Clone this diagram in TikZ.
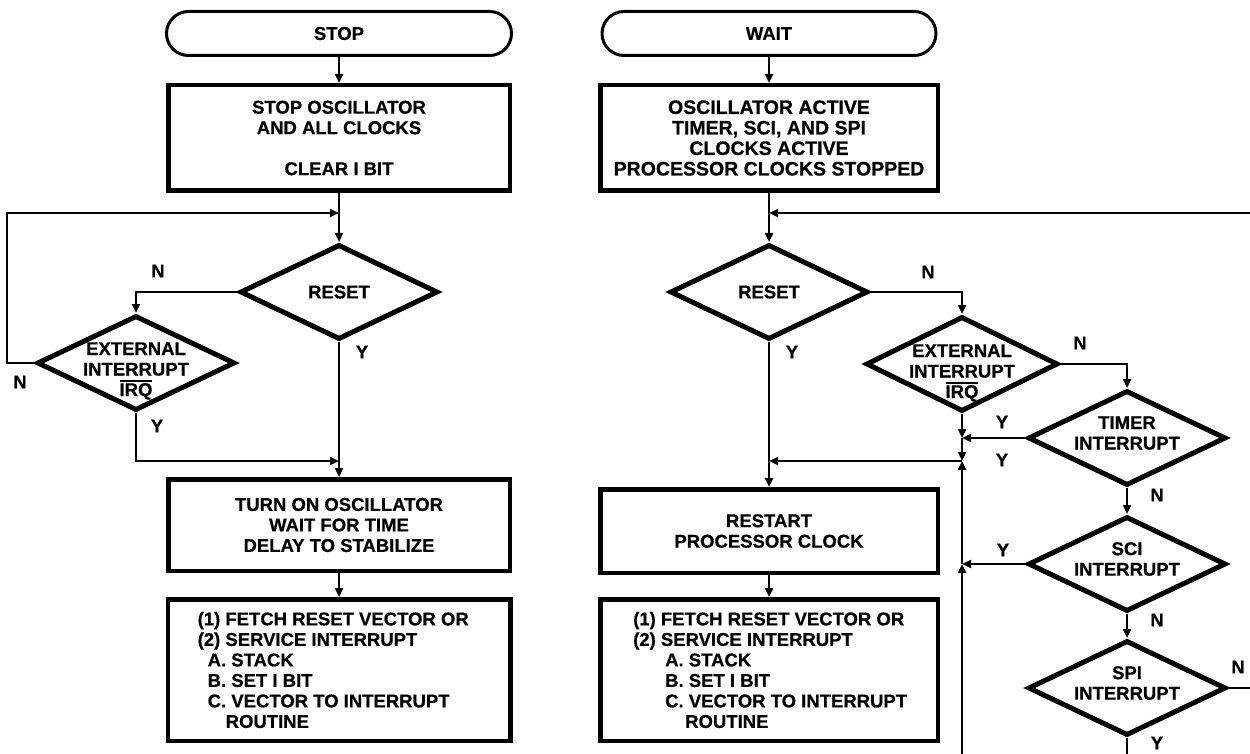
\documentclass[tikz,border=0pt]{standalone}
\usepackage{fontspec}
\setmainfont{Liberation Sans}[BoldFeatures={FakeBold=0.6}]
\usetikzlibrary{shapes.geometric,arrows.meta}
\newcommand\ovl[1]{\leavevmode\vbox{\hrule height 1.7pt\kern1.2pt\hbox{#1}}}
\tikzset{
  fc/.style={font=\fontsize{18.5}{20.5}\selectfont\bfseries},
  box/.style={draw,line width=4.5pt,inner sep=0pt,fc,align=center},
  dia/.style={diamond,draw,line width=5pt,inner sep=0pt,minimum width=198pt,minimum height=95pt},
  term/.style={draw,line width=3pt,rounded corners=22pt,minimum height=44pt,inner sep=0pt,fc},
  txt/.style={fc,align=center,inner sep=0pt},
  lbl/.style={fc,inner sep=0pt},
  con/.style={line width=2.8pt},
  arr/.style={con,-{Triangle[length=9pt,width=8pt]}},
}
\begin{document}
\begin{tikzpicture}[x=1pt,y=-1pt]
\useasboundingbox (0,0) rectangle (1250,754);
% ---------- left column ----------
\node[term,minimum width=345pt] (stop) at (339,33.5) {STOP};
\node[box,minimum width=341.5pt,minimum height=105.5pt] (b1) at (339,138) {STOP OSCILLATOR\\AND ALL CLOCKS\\ \\CLEAR I BIT};
\node[dia] (reset1) at (339,292) {};
\node[txt] (reset1t) at (reset1) {RESET};
\node[dia] (ext1) at (136,363) {};
\node[txt] (ext1t) at (136,371) {EXTERNAL\\INTERRUPT\\\ovl{IRQ}};
\node[box,minimum width=341.5pt,minimum height=91.5pt] (b2) at (339,525) {TURN ON OSCILLATOR\\WAIT FOR TIME\\DELAY TO STABILIZE};
\node[box,minimum width=342.5pt,minimum height=141.5pt] (b3) at (339,670) {};
\node[txt,align=left,anchor=west] (b3t) at ([xshift=32pt]b3.west) {(1) FETCH RESET VECTOR OR\\(2) SERVICE INTERRUPT\\\hspace*{10pt}A. STACK\\\hspace*{10pt}B. SET I BIT\\\hspace*{10pt}C. VECTOR TO INTERRUPT\\\hspace*{28pt}ROUTINE};
\coordinate (j1) at (339,213);
\coordinate (l1) at (7,363);
\coordinate (j2) at (339,461);
\draw[arr] (stop.south) -- (b1.north);
\draw[arr] (b1.south) -- (reset1.north);
\draw[arr] (reset1.west) -| (ext1.north);
\draw[arr] (ext1.west) -- (l1) |- (j1);
\draw[arr] (reset1.south) -- (b2.north);
\draw[arr] (ext1.south) |- (j2);
\draw[arr] (b2.south) -- (b3.north);
\node[lbl] (n1) at (158,271) {N};
\node[lbl] (n2) at (20,382) {N};
\node[lbl] (y1) at (362,352) {Y};
\node[lbl] (y2) at (157,426) {Y};
% ---------- right column ----------
\node[term,minimum width=334pt] (wait) at (769,33.5) {WAIT};
\node[box,minimum width=337.5pt,minimum height=105.5pt,font=\fontsize{19.5}{20.5}\selectfont\bfseries] (b1r) at (769,138) {OSCILLATOR ACTIVE\\TIMER, SCI, AND SPI\\CLOCKS ACTIVE\\PROCESSOR CLOCKS STOPPED};
\node[dia] (reset2) at (769,292) {};
\node[txt] (reset2t) at (reset2) {RESET};
\node[dia,minimum width=192pt] (ext2) at (962,364) {};
\node[txt] (ext2t) at (962,373) {EXTERNAL\\INTERRUPT\\\ovl{IRQ}};
\node[dia] (timer) at (1127,438) {};
\node[txt] (timert) at (1127,433) {TIMER\\INTERRUPT};
\node[dia] (sci) at (1127,564) {};
\node[txt] (scit) at (1127,559) {SCI\\INTERRUPT};
\node[dia] (spi) at (1127,688) {};
\node[txt] (spit) at (1127,683) {SPI\\INTERRUPT};
\node[box,minimum width=337.5pt,minimum height=83.5pt] (b2r) at (769,531) {RESTART\\PROCESSOR CLOCK};
\node[box,minimum width=337.5pt,minimum height=141.5pt] (b3r) at (769,670) {};
\node[txt,align=left,anchor=west] (b3rt) at ([xshift=35pt]b3r.west) {(1) FETCH RESET VECTOR OR\\(2) SERVICE INTERRUPT\\\hspace*{32pt}A. STACK\\\hspace*{32pt}B. SET I BIT\\\hspace*{32pt}C. VECTOR TO INTERRUPT\\\hspace*{52pt}ROUTINE};
\coordinate (jr1) at (769,213);
\coordinate (er1) at (1250,213);
\coordinate (er2) at (1250,688);
\coordinate (eb) at (1127,754);
\coordinate (c1) at (962,438);
\coordinate (c2) at (962,461);
\coordinate (c3) at (962,564);
\coordinate (cb) at (962,754);
\coordinate (jr2) at (769,461);
\draw[arr] (wait.south) -- (b1r.north);
\draw[arr] (b1r.south) -- (reset2.north);
\draw[arr] (er1) -- (jr1);
\draw[arr] (reset2.east) -| (ext2.north);
\draw[arr] (ext2.east) -| (timer.north);
\draw[arr] (timer.south) -- (sci.north);
\draw[arr] (sci.south) -- (spi.north);
\draw[con] (spi.east) -- (er2);
\draw[con] (spi.south) -- (eb);
\draw[arr] (reset2.south) -- (b2r.north);
\draw[arr] (ext2.south) -- (c1);
\draw[arr] (c1) -- (c2);
\draw[arr] (timer.west) -- (c1);
\draw[arr] (cb) -- (c3);
\draw[arr] (c3) -- (c2);
\draw[arr] (sci.west) -- (c3);
\draw[arr] (c2) -- (jr2);
\draw[arr] (b2r.south) -- (b3r.north);
\node[lbl] (n3) at (928,272) {N};
\node[lbl] (n4) at (1080,343) {N};
\node[lbl] (y3) at (792,352) {Y};
\node[lbl] (y4) at (1002,422) {Y};
\node[lbl] (y5) at (1002,460) {Y};
\node[lbl] (n5) at (1157,495) {N};
\node[lbl] (y6) at (1003,550) {Y};
\node[lbl] (n6) at (1157,620) {N};
\node[lbl] (n7) at (1238,667) {N};
\node[lbl] (y7) at (1157,743) {Y};
\end{tikzpicture}
\end{document}
